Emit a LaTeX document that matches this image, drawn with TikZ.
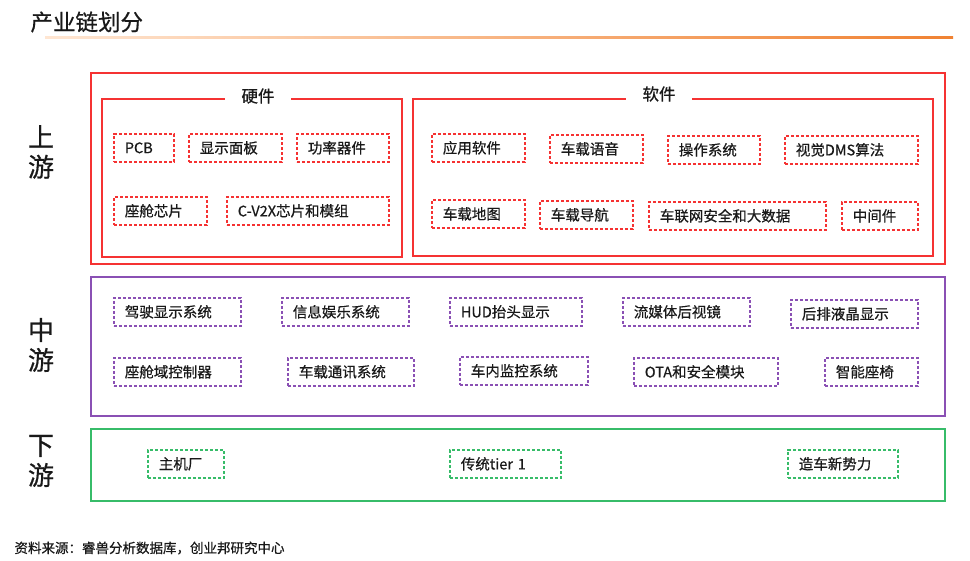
\documentclass[tikz,border=0pt]{standalone}
\usepackage{fontspec}
\setmainfont{Noto Sans CJK SC}[FakeBold=0.6]
\usetikzlibrary{positioning}

\definecolor{upred}{RGB}{245,50,50}
\definecolor{midpurple}{RGB}{138,80,180}
\definecolor{downgreen}{RGB}{55,188,105}
\definecolor{lineorange}{RGB}{240,130,50}
\definecolor{linepale}{RGB}{255,230,210}
\definecolor{txt}{RGB}{25,25,25}

\begin{document}
\begin{tikzpicture}[x=1pt, y=-1pt, font=\fontsize{14.5}{16}\selectfont, every node/.style={text=txt}]%

    \tikzstyle{frame} = [line width = 1.8pt]
    \tikzstyle{subframe} = [line width = 1.5pt, draw = upred]
    \tikzstyle{tag} = [draw, dash pattern = on 3.2pt off 1.8pt, line width = 1.7pt, anchor = north west, minimum height = 28pt, inner xsep = 11pt, inner ysep = 0pt, align = left]
    \tikzstyle{uptag} = [tag, draw = upred]
    \tikzstyle{midtag} = [tag, draw = midpurple]
    \tikzstyle{downtag} = [tag, draw = downgreen]
    \tikzstyle{head} = [fill = white, minimum width = 66pt, inner ysep = 1pt, font = \fontsize{16.5}{18}\selectfont]
    \tikzstyle{level} = [align = center, font = \fontsize{26}{30}\selectfont]
%
    \useasboundingbox (0,0) rectangle (970,561);

    %% Title
    \node [anchor = west, font = \fontsize{22.5}{24}\selectfont] (title) at (27,22) {产业链划分};
    \shade [left color = linepale, right color = lineorange] (45,37) rectangle (953,39);

    %% Frames
    \draw [frame, draw = upred] (91,73) rectangle (945,264);
    \draw [subframe] (102,99) rectangle (402,257);
    \draw [subframe] (413,99) rectangle (933,256);
    \draw [frame, draw = midpurple] (91,277) rectangle (945,416);
    \draw [frame, draw = downgreen] (91,429) rectangle (945,501);

    \node [head] (hw_head) at (258,96) {硬件};
    \node [head] (sw_head) at (659,94) {软件};

    \node [level] (lvl_up) at (41,152) {上\\游};
    \node [level] (lvl_mid) at (41,345) {中\\游};
    \node [level] (lvl_down) at (41,461) {下\\游};

    %% Upstream: hardware
    \node [uptag, text width = 38pt] (hw_pcb) at (113,133) {PCB};
    \node [uptag, text width = 71pt] (hw_panel) at (188,133) {显示面板};
    \node [uptag, text width = 70pt] (hw_power) at (296,133) {功率器件};
    \node [uptag, text width = 71pt] (hw_chip) at (113,196) {座舱芯片};
    \node [uptag, text width = 140pt] (hw_v2x) at (226,196) {C-V2X芯片和模组};

    %% Upstream: software
    \node [uptag, text width = 71pt] (sw_app) at (431,133) {应用软件};
    \node [uptag, text width = 71pt] (sw_voice) at (549,134) {车载语音};
    \node [uptag, text width = 70pt] (sw_os) at (667,135) {操作系统};
    \node [uptag, text width = 111pt] (sw_dms) at (784,135) {视觉DMS算法};
    \node [uptag, text width = 71pt] (sw_map) at (431,199) {车载地图};
    \node [uptag, text width = 71pt] (sw_nav) at (539,200) {车载导航};
    \node [uptag, text width = 155pt] (sw_iov) at (648,201) {车联网安全和大数据};
    \node [uptag, text width = 54pt] (sw_mid) at (841,201) {中间件};

    %% Midstream
    \node [midtag, text width = 105pt] (mid_drive) at (113,297) {驾驶显示系统};
    \node [midtag, text width = 105pt] (mid_info) at (281,297) {信息娱乐系统};
    \node [midtag, text width = 110pt] (mid_hud) at (449,297) {HUD抬头显示};
    \node [midtag, text width = 105pt] (mid_mirror) at (622,297) {流媒体后视镜};
    \node [midtag, text width = 105pt] (mid_rear) at (790,299) {后排液晶显示};
    \node [midtag, text width = 105pt] (mid_domain) at (113,357) {座舱域控制器};
    \node [midtag, text width = 104pt] (mid_comm) at (287,357) {车载通讯系统};
    \node [midtag, text width = 106pt] (mid_monitor) at (459,356) {车内监控系统};
    \node [midtag, text width = 122pt] (mid_ota) at (633,357) {OTA和安全模块};
    \node [midtag, text width = 71pt] (mid_seat) at (824,357) {智能座椅};

    %% Downstream
    \node [downtag, text width = 54pt] (dn_oem) at (147,449) {主机厂};
    \node [downtag, text width = 89pt] (dn_tier) at (449,449) {传统tier 1};
    \node [downtag, text width = 88pt] (dn_new) at (787,449) {造车新势力};

    %% Source
    \node [anchor = west, font = \fontsize{13.5}{15}\selectfont] (source) at (11,548) {资料来源：睿兽分析数据库，创业邦研究中心};

\end{tikzpicture}
\end{document}
